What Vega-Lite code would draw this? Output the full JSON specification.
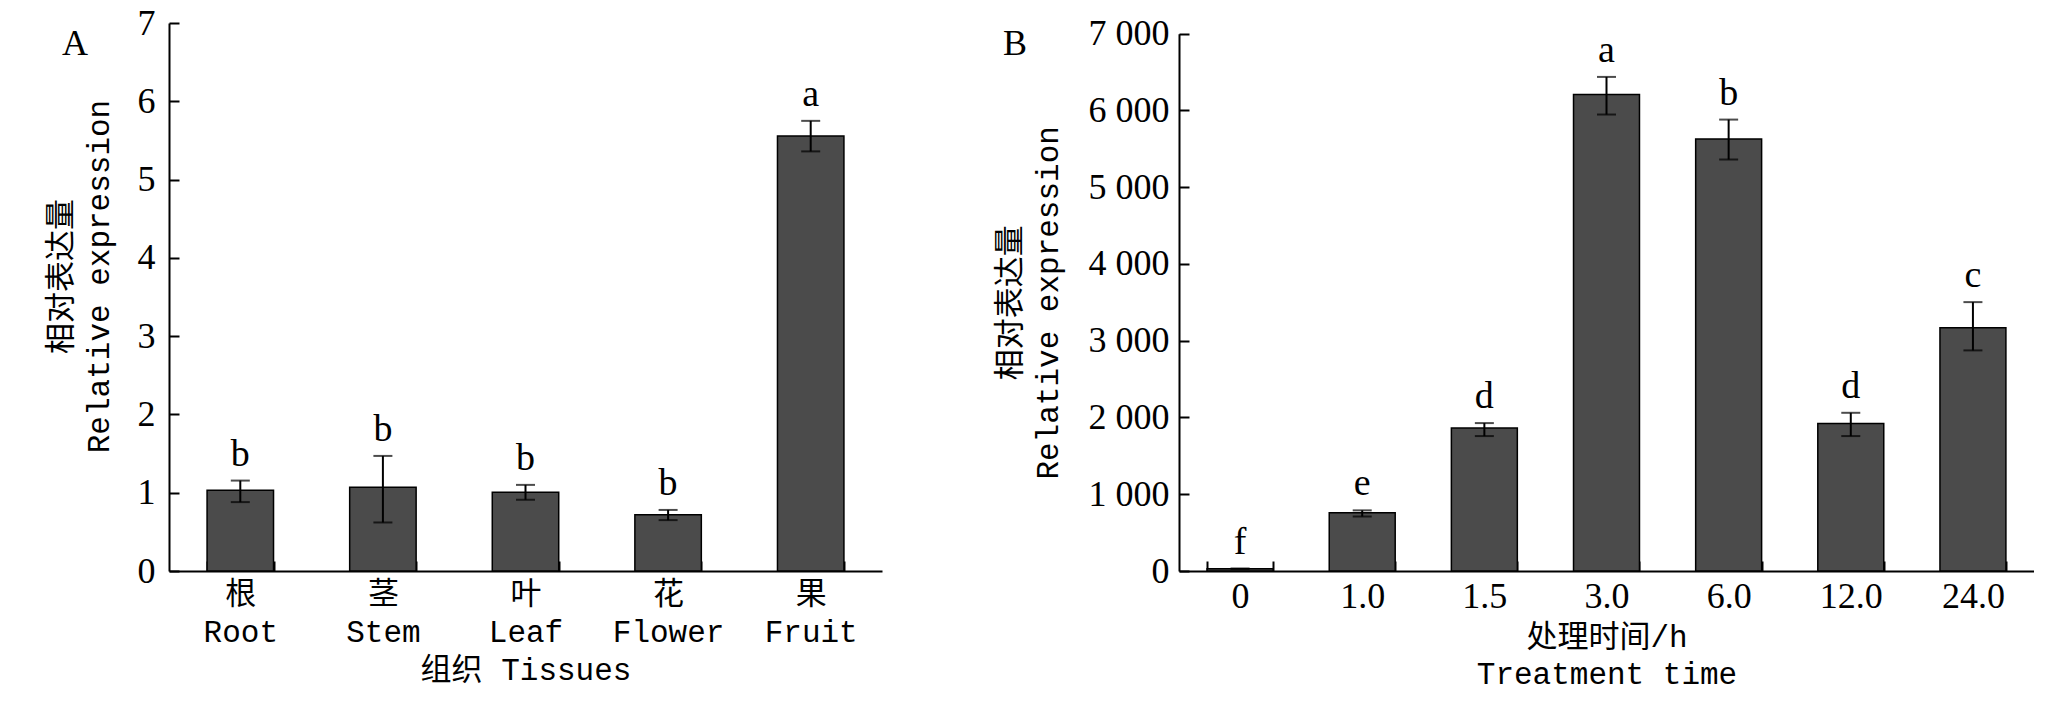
{
  "$schema": "https://vega.github.io/schema/vega-lite/v6.json",
  "background": "white",
  "padding": {"left": 45, "top": 5, "right": 0, "bottom": 0},
  "spacing": 112,
  "config": {
    "view": {"stroke": null},
    "axis": {
      "grid": false,
      "domainColor": "black",
      "domainWidth": 2,
      "tickColor": "black",
      "tickWidth": 2,
      "tickSize": -10,
      "labelColor": "black",
      "labelFont": "Liberation Serif",
      "labelFontSize": 36,
      "labelOverlap": false,
      "titleColor": "black",
      "titleFont": "Liberation Mono, Noto Sans CJK SC",
      "titleFontSize": 31,
      "titleFontWeight": "normal",
      "titleLineHeight": 38
    },
    "title": {"font": "Liberation Serif", "fontSize": 36, "fontWeight": "normal", "color": "black", "anchor": "start", "frame": "bounds"}
  },
  "hconcat": [
    {
      "width": 713,
      "height": 548,
      "title": {"text": "A", "offset": -58, "dx": 17},
      "data": {
        "values": [
          {"tissue": "根|Root", "mean": 1.03, "lower": 0.88, "upper": 1.155, "sig": "b"},
          {"tissue": "茎|Stem", "mean": 1.07, "lower": 0.62, "upper": 1.47, "sig": "b"},
          {"tissue": "叶|Leaf", "mean": 1.005, "lower": 0.91, "upper": 1.1, "sig": "b"},
          {"tissue": "花|Flower", "mean": 0.72, "lower": 0.65, "upper": 0.78, "sig": "b"},
          {"tissue": "果|Fruit", "mean": 5.556, "lower": 5.36, "upper": 5.75, "sig": "a"}
        ]
      },
      "encoding": {
        "x": {
          "field": "tissue",
          "type": "nominal",
          "sort": null,
          "scale": {"paddingInner": 0.534, "paddingOuter": 0.267},
          "axis": {
            "title": "组织 Tissues",
            "labelAngle": 0,
            "tickBand": "extent",
            "labelExpr": "split(datum.label, '|')",
            "labelFont": "Liberation Mono, Noto Sans CJK SC",
            "labelFontSize": 31,
            "labelLineHeight": 38,
            "labelPadding": 18,
            "titlePadding": 8
          }
        }
      },
      "layer": [
        {
          "mark": {"type": "bar", "fill": "#4b4b4b", "stroke": "black", "strokeWidth": 1.5},
          "encoding": {
            "y": {
              "field": "mean",
              "type": "quantitative",
              "title": ["相对表达量", "Relative expression"],
              "scale": {"domain": [0, 7]},
              "axis": {"values": [0, 1, 2, 3, 4, 5, 6, 7], "format": "d", "labelPadding": 24, "titlePadding": 22, "titleY": 253}
            }
          }
        },
        {
          "mark": {
            "type": "errorbar",
            "rule": {"strokeWidth": 2, "color": "black"},
            "ticks": {"size": 19, "thickness": 2, "color": "black"}
          },
          "encoding": {
            "y": {"field": "lower", "type": "quantitative", "title": ["相对表达量", "Relative expression"]},
            "y2": {"field": "upper"}
          }
        },
        {
          "mark": {"type": "text", "baseline": "alphabetic", "dy": -15, "font": "Liberation Serif", "fontSize": 38, "color": "black"},
          "encoding": {
            "y": {"field": "upper", "type": "quantitative", "title": ["相对表达量", "Relative expression"]},
            "text": {"field": "sig"}
          }
        }
      ]
    },
    {
      "width": 855,
      "height": 548,
      "title": {"text": "B", "offset": -47, "dx": 9},
      "data": {
        "values": [
          {"time": "0", "mean": 30, "lower": 30, "upper": 30, "sig": "f"},
          {"time": "1.0", "mean": 760, "lower": 710, "upper": 790, "sig": "e"},
          {"time": "1.5", "mean": 1862, "lower": 1758, "upper": 1927, "sig": "d"},
          {"time": "3.0", "mean": 6207, "lower": 5947, "upper": 6437, "sig": "a"},
          {"time": "6.0", "mean": 5629, "lower": 5361, "upper": 5881, "sig": "b"},
          {"time": "12.0", "mean": 1923, "lower": 1758, "upper": 2061, "sig": "d"},
          {"time": "24.0", "mean": 3168, "lower": 2874, "upper": 3503, "sig": "c"}
        ]
      },
      "encoding": {
        "x": {
          "field": "time",
          "type": "nominal",
          "sort": null,
          "scale": {"paddingInner": 0.46, "paddingOuter": 0.23},
          "axis": {
            "title": ["处理时间/h", "Treatment time"],
            "labelAngle": 0,
            "tickBand": "extent",
            "labelPadding": 18,
            "titlePadding": 8,
            "titleLineHeight": 37
          }
        }
      },
      "layer": [
        {
          "mark": {"type": "bar", "fill": "#4b4b4b", "stroke": "black", "strokeWidth": 1.5},
          "encoding": {
            "y": {
              "field": "mean",
              "type": "quantitative",
              "title": ["相对表达量", "Relative expression"],
              "scale": {"domain": [0, 7000], "range": [548, 10.7]},
              "axis": {
                "values": [0, 1000, 2000, 3000, 4000, 5000, 6000, 7000],
                "labelExpr": "replace(format(datum.value, ','), ',', ' ')",
                "labelPadding": 20,
                "titlePadding": 24
              }
            }
          }
        },
        {
          "mark": {
            "type": "errorbar",
            "rule": {"strokeWidth": 2, "color": "black"},
            "ticks": {"size": 19, "thickness": 2, "color": "black"}
          },
          "encoding": {
            "y": {"field": "lower", "type": "quantitative", "title": ["相对表达量", "Relative expression"]},
            "y2": {"field": "upper"}
          }
        },
        {
          "mark": {"type": "text", "baseline": "alphabetic", "dy": -15, "font": "Liberation Serif", "fontSize": 38, "color": "black"},
          "encoding": {
            "y": {"field": "upper", "type": "quantitative", "title": ["相对表达量", "Relative expression"]},
            "text": {"field": "sig"}
          }
        }
      ]
    }
  ]
}
